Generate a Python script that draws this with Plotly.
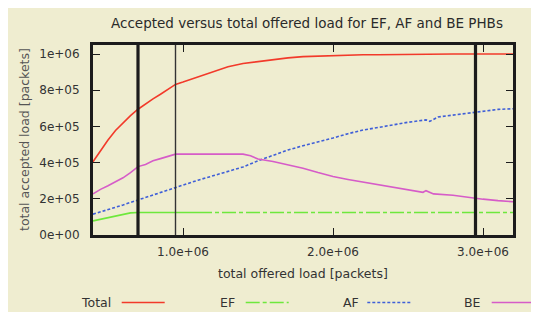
import plotly.graph_objects as go

# ---------------- data ----------------
total_x = [0.4e6, 0.45e6, 0.5e6, 0.55e6, 0.6e6, 0.65e6, 0.7e6, 0.75e6, 0.8e6, 0.85e6,
           0.9e6, 0.95e6, 1.0e6, 1.1e6, 1.2e6, 1.3e6, 1.4e6, 1.5e6, 1.6e6, 1.7e6,
           1.8e6, 1.9e6, 2.0e6, 2.1e6, 2.2e6, 2.3e6, 2.4e6, 2.45e6, 2.6e6, 2.8e6,
           3.0e6, 3.2e6]
total_y = [0.405e6, 0.467e6, 0.525e6, 0.578e6, 0.622e6, 0.66e6, 0.695e6, 0.725e6, 0.752e6, 0.778e6,
           0.806e6, 0.832e6, 0.845e6, 0.873e6, 0.903e6, 0.93e6, 0.948e6, 0.959e6, 0.968e6, 0.979e6,
           0.986e6, 0.989e6, 0.993e6, 0.996e6, 0.996e6, 0.996e6, 0.997e6, 1.0e6, 1.0e6, 1.0e6,
           1.0e6, 1.0e6]

ef_x = [0.4e6, 0.45e6, 0.5e6, 0.55e6, 0.6e6, 0.65e6, 0.7e6, 1.0e6, 1.1e6, 1.5e6, 2.0e6, 2.5e6,
        3.0e6, 3.2e6]
ef_y = [0.078e6, 0.087e6, 0.096e6, 0.105e6, 0.113e6, 0.122e6, 0.124e6, 0.124e6, 0.124e6, 0.124e6,
        0.124e6, 0.124e6, 0.124e6, 0.124e6]

af_x = [0.4e6, 0.45e6, 0.5e6, 0.55e6, 0.6e6, 0.65e6, 0.7e6, 0.75e6, 0.8e6, 0.85e6,
        0.9e6, 0.95e6, 1.0e6, 1.1e6, 1.2e6, 1.3e6, 1.4e6, 1.5e6, 1.6e6, 1.7e6,
        1.8e6, 1.9e6, 2.0e6, 2.1e6, 2.2e6, 2.3e6, 2.4e6, 2.5e6, 2.62e6, 2.645e6,
        2.7e6, 2.8e6, 2.9e6, 3.0e6, 3.1e6, 3.2e6]
af_y = [0.115e6, 0.127e6, 0.14e6, 0.153e6, 0.166e6, 0.18e6, 0.194e6, 0.208e6, 0.222e6, 0.235e6,
        0.247e6, 0.26e6, 0.274e6, 0.303e6, 0.327e6, 0.352e6, 0.376e6, 0.41e6, 0.441e6, 0.47e6,
        0.493e6, 0.513e6, 0.536e6, 0.56e6, 0.58e6, 0.594e6, 0.61e6, 0.623e6, 0.636e6, 0.628e6,
        0.652e6, 0.663e6, 0.673e6, 0.683e6, 0.694e6, 0.698e6]

be_x = [0.4e6, 0.45e6, 0.5e6, 0.55e6, 0.6e6, 0.65e6, 0.7e6, 0.75e6, 0.8e6, 0.85e6,
        0.9e6, 0.95e6, 1.0e6, 1.2e6, 1.4e6, 1.45e6, 1.5e6, 1.6e6, 1.7e6, 1.8e6,
        1.9e6, 2.0e6, 2.1e6, 2.2e6, 2.3e6, 2.4e6, 2.5e6, 2.6e6, 2.62e6, 2.67e6,
        2.8e6, 2.9e6, 3.0e6, 3.1e6, 3.2e6]
be_y = [0.227e6, 0.252e6, 0.272e6, 0.293e6, 0.316e6, 0.345e6, 0.378e6, 0.39e6, 0.41e6, 0.422e6,
        0.435e6, 0.447e6, 0.447e6, 0.447e6, 0.447e6, 0.438e6, 0.42e6, 0.406e6, 0.387e6, 0.369e6,
        0.345e6, 0.323e6, 0.307e6, 0.293e6, 0.279e6, 0.264e6, 0.248e6, 0.236e6, 0.245e6, 0.227e6,
        0.22e6, 0.208e6, 0.198e6, 0.19e6, 0.184e6]

marker_lines = [0.7e6, 0.95e6, 2.95e6]   # vertical reference lines
marker_widths = [3.2, 1.4, 3.2]

x_tickvals = [1e6, 2e6, 3e6]
x_ticktext = ["1.0e+06", "2.0e+06", "3.0e+06"]
y_tickvals = [0, 2e5, 4e5, 6e5, 8e5, 1e6]
y_ticktext = ["0e+00", "2e+05", "4e+05", "6e+05", "8e+05", "1e+06"]

series_names = ["Total", "EF", "AF", "BE"]
series_colors = ["#f23a2a", "#6ee83c", "#3f5fd8", "#d65cc8"]
series_dash = ["solid", "14px,3px,4px,3px", "3px,2px", "solid"]
ef_solid_until = 1.1e6   # the densely sampled start of EF renders as a solid line

title_text = "Accepted versus total offered load for EF, AF and BE PHBs"
x_title = "total offered load [packets]"
y_title = "total accepted load [packets]"

# ---------------- layout geometry (page pixels) ----------------
OFF = 8                       # default page margin around the plot div
PW, PH = 539, 312             # page size
W, H = PW - OFF, PH - OFF     # figure size
L, R, T, B = 93, 513, 45, 235  # plot area in page pixels
FONT = "DejaVu Sans"
BG = "#efedd0"
INK = "#1c1c1c"


def px(X):
    return (X - L) / (R - L)


def py(Y):
    return (B - Y) / (B - T)


fig = go.Figure()
data = [(total_x, total_y), (ef_x, ef_y), (af_x, af_y), (be_x, be_y)]
for (xs, ys), name, col, dash in zip(data, series_names, series_colors, series_dash):
    if name == "EF":
        head = [(a, b) for a, b in zip(xs, ys) if a <= ef_solid_until]
        tail = [(a, b) for a, b in zip(xs, ys) if a >= ef_solid_until]
        fig.add_trace(go.Scatter(x=[p[0] for p in head], y=[p[1] for p in head],
                                 mode="lines", name=name,
                                 line=dict(color=col, width=1.6, dash="solid"),
                                 showlegend=False, hoverinfo="skip"))
        fig.add_trace(go.Scatter(x=[p[0] for p in tail], y=[p[1] for p in tail],
                                 mode="lines", name=name,
                                 line=dict(color=col, width=1.6, dash=dash),
                                 showlegend=False, hoverinfo="skip"))
        continue
    fig.add_trace(go.Scatter(x=xs, y=ys, mode="lines", name=name,
                             line=dict(color=col, width=1.6, dash=dash),
                             showlegend=False, hoverinfo="skip"))

shapes = [dict(type="rect", xref="paper", yref="paper",
               x0=px(OFF), x1=px(PW + 5), y0=py(PH + 5), y1=py(OFF),
               fillcolor=BG, line=dict(width=0), layer="below")]
for xv, w in zip(marker_lines, marker_widths):
    shapes.append(dict(type="line", xref="x", yref="paper", x0=xv, x1=xv, y0=0, y1=1,
                       line=dict(color=INK if w > 2 else "#333333", width=w), layer="above"))

annotations = [
    dict(text=title_text, xref="paper", yref="paper", x=px(306.5), y=py(23.5),
         xanchor="center", yanchor="middle", showarrow=False,
         font=dict(family=FONT, size=13.5, color="#2a2a2a")),
    dict(text=x_title, xref="paper", yref="paper", x=px(302.5), y=py(273.5),
         xanchor="center", yanchor="middle", showarrow=False,
         font=dict(family=FONT, size=12.5, color="#333333")),
    dict(text=y_title, xref="paper", yref="paper", x=px(24), y=py(140),
         xanchor="center", yanchor="middle", showarrow=False, textangle=-90,
         font=dict(family=FONT, size=12.5, color="#555555")),
]

# gnuplot-style legend: label, then line sample
leg_y = 302.5
leg_text_right = [112.7, 236.7, 360.7, 483.3]
leg_line_start = [121.7, 245.7, 367.3, 491.7]
leg_len = 43
for name, col, dash, tr, ls in zip(series_names, series_colors, series_dash,
                                   leg_text_right, leg_line_start):
    annotations.append(dict(text=name, xref="paper", yref="paper", x=px(tr), y=py(leg_y),
                            xanchor="right", yanchor="middle", showarrow=False,
                            font=dict(family=FONT, size=12.5, color="#333333")))
    shapes.append(dict(type="line", xref="paper", yref="paper",
                       x0=px(ls), x1=px(ls + leg_len), y0=py(leg_y), y1=py(leg_y),
                       line=dict(color=col, width=1.6, dash=dash)))

axis_common = dict(showgrid=False, zeroline=False, showline=True, linewidth=3,
                   linecolor=INK, mirror="ticks", ticks="inside", ticklen=7,
                   tickwidth=1.4, tickcolor=INK,
                   tickfont=dict(family=FONT, size=12, color="#333333"))

fig.update_layout(
    width=W, height=H,
    margin=dict(l=L - OFF, r=PW - R, t=T - OFF, b=PH - B, pad=0),
    paper_bgcolor="white", plot_bgcolor="rgba(0,0,0,0)",
    xaxis=dict(range=[0.4e6, 3.2e6], tickvals=x_tickvals, ticktext=x_ticktext,
               ticklabelstandoff=4, **axis_common),
    yaxis=dict(range=[0, 1.05e6], tickvals=y_tickvals, ticktext=y_ticktext,
               ticklabelstandoff=8, **axis_common),
    shapes=shapes, annotations=annotations, showlegend=False,
    font=dict(family=FONT),
)

fig.write_html("out.html")
